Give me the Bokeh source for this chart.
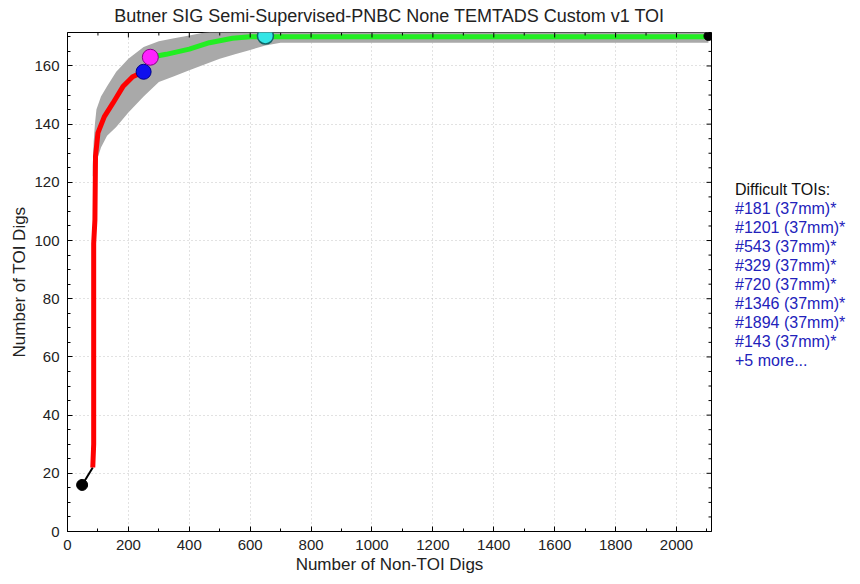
import math
from bokeh.plotting import figure
from bokeh.layouts import row
from bokeh.models import Range1d, FixedTicker, Div
from bokeh.embed import file_html
from bokeh.resources import INLINE

# ---- data ----
title_text = "Butner SIG Semi-Supervised-PNBC None TEMTADS Custom v1 TOI"
x_label = "Number of Non-TOI Digs"
y_label = "Number of TOI Digs"
x_ticks = [0, 200, 400, 600, 800, 1000, 1200, 1400, 1600, 1800, 2000]
y_ticks = [0, 20, 40, 60, 80, 100, 120, 140, 160]
x_minor = list(range(100, 2200, 200))
y_minor = [v for v in range(5, 175, 5) if v % 20 != 0]

start_x = [48, 83]
start_y = [16, 22]

red_x = [83, 86, 86, 90, 92, 100, 121, 149, 182, 214, 250]
red_y = [22, 30, 99, 107, 129, 137, 142.6, 147.2, 152.9, 156.3, 158]

green_x = [272, 324, 400, 466, 542, 600, 644, 2105]
green_y = [163, 164, 165.8, 168, 169.5, 170, 170, 170]

band_x = [83, 86, 90, 95, 110, 130, 160, 200, 250, 300, 350, 400, 450, 500, 550, 600, 650, 700, 2105]
band_upper = [126, 134, 140, 145, 149.5, 153, 158, 162.5, 166.5, 168.5, 169.5, 170.5, 171.5, 172, 172, 172, 172, 172, 172]
band_lower = [122, 123, 124, 127, 132, 136, 139, 144, 149.5, 154.5, 156.5, 158.5, 160.5, 162.5, 164, 165.5, 167, 168, 168]

start_pt = (48, 16)
blue_pt = (250, 158)
magenta_pt = (272, 163)
cyan_pt = (650, 170.3)
end_pt = (2105, 170.3)

legend_title = "Difficult TOIs:"
legend_items = ["#181 (37mm)*", "#1201 (37mm)*", "#543 (37mm)*", "#329 (37mm)*",
                "#720 (37mm)*", "#1346 (37mm)*", "#1894 (37mm)*", "#143 (37mm)*",
                "+5 more..."]

FONT = "Liberation Sans"
X_MAX = 2115
Y_MAX = 171.5

p = figure(width=721, height=576, x_range=Range1d(0, X_MAX), y_range=Range1d(0, Y_MAX),
           output_backend="svg", toolbar_location=None,
           min_border_left=67, min_border_right=10, min_border_top=32, min_border_bottom=44)
p.background_fill_color = "white"
p.border_fill_color = "white"
p.outline_line_color = "black"
p.outline_line_width = 1

p.title.text = title_text
p.title.align = "center"
p.title.vertical_align = "top"
p.title.text_font = FONT
p.title.text_font_size = "18px"
p.title.text_font_style = "normal"
p.title.text_color = "#222222"
p.title.standoff = 10

xt = FixedTicker(ticks=x_ticks, minor_ticks=x_ticks + x_minor)
yt = FixedTicker(ticks=y_ticks, minor_ticks=y_ticks + y_minor)

bottom_axis = p.below[0]
left_axis = p.left[0]
bottom_axis.ticker = xt
left_axis.ticker = yt
bottom_axis.axis_label = x_label
left_axis.axis_label = y_label

for ax in (bottom_axis, left_axis):
    ax.major_tick_in = 5
    ax.major_tick_out = 0
    ax.minor_tick_in = 3
    ax.minor_tick_out = 0
    ax.axis_line_color = "black"
    ax.major_tick_line_color = "black"
    ax.minor_tick_line_color = "black"
    ax.major_label_text_font = FONT
    ax.major_label_text_font_size = "15px"
    ax.major_label_text_color = "#222222"
    ax.axis_label_text_font = FONT
    ax.axis_label_text_font_size = "17px"
    ax.axis_label_text_font_style = "normal"
    ax.axis_label_text_color = "#222222"
    ax.major_label_standoff = 8
    ax.axis_label_standoff = 2

p.xgrid.ticker = xt
p.ygrid.ticker = yt
p.xgrid.grid_line_color = "#c4c4c4"
p.ygrid.grid_line_color = "#c4c4c4"
p.xgrid.grid_line_dash = "1 3"
p.ygrid.grid_line_dash = "1 3"

# band
p.varea(x=band_x, y1=band_lower, y2=band_upper, fill_color="#a9a9a9")

# lines
p.line(start_x, start_y, line_color="black", line_width=2)
p.line(red_x, red_y, line_color="#ff0000", line_width=5)
p.line(green_x, green_y, line_color="#22ee22", line_width=5)

# markers
p.scatter([start_pt[0]], [start_pt[1]], size=11, fill_color="black", line_color="black")
p.scatter([end_pt[0]], [end_pt[1]], size=9, fill_color="black", line_color="black")
p.scatter([blue_pt[0]], [blue_pt[1]], size=15, fill_color="#1010ee", line_color="#000088")
p.scatter([magenta_pt[0]], [magenta_pt[1]], size=16, fill_color="#ff22ff", line_color="#880088")
p.scatter([cyan_pt[0]], [cyan_pt[1]], size=16, fill_color="#33e6e6", line_color="#116666", line_width=1.5)

# mirrored tick marks on the top and right edges of the box (inward)
p.ray(x=x_ticks, y=[Y_MAX] * len(x_ticks), length=5, length_units="screen",
      angle=-math.pi / 2, line_color="black", line_width=1)
p.ray(x=x_minor, y=[Y_MAX] * len(x_minor), length=3, length_units="screen",
      angle=-math.pi / 2, line_color="black", line_width=1)
p.ray(x=[X_MAX] * len(y_ticks), y=y_ticks, length=5, length_units="screen",
      angle=math.pi, line_color="black", line_width=1)
p.ray(x=[X_MAX] * len(y_minor), y=y_minor, length=3, length_units="screen",
      angle=math.pi, line_color="black", line_width=1)

# text list of difficult TOIs to the right of the plot
lines_html = "<br>".join(legend_items)
html = ("<div style=\"font-family:'Liberation Sans',Arial,sans-serif;font-size:16px;"
        "line-height:19px;color:#2222bb;white-space:nowrap\">"
        "<span style=\"color:#111111\">" + legend_title + "</span><br>" + lines_html + "</div>")
side = Div(text=html, width=118, height=200, margin=(180, 0, 0, 14))

open("out.html", "w").write(file_html(row(p, side), INLINE))
